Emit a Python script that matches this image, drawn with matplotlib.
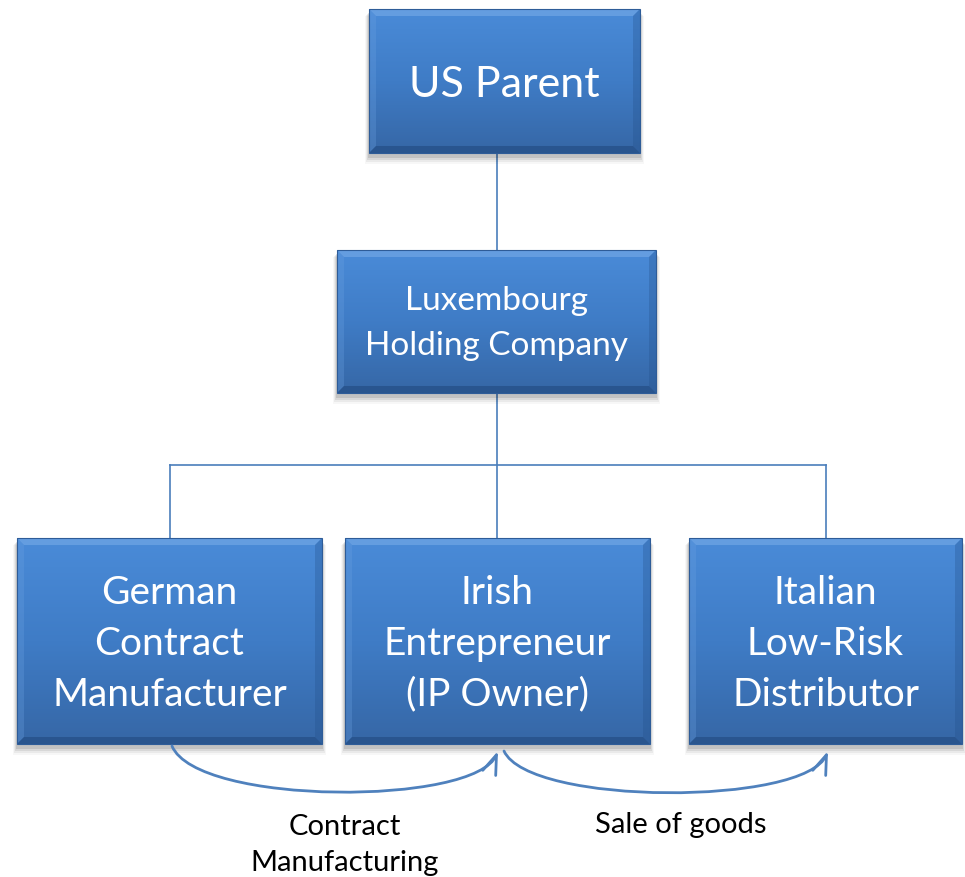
import numpy as np
import matplotlib.pyplot as plt
from matplotlib.colors import LinearSegmentedColormap
from matplotlib.patches import Rectangle, Polygon, FancyArrowPatch
from matplotlib.path import Path

plt.rcParams['font.family'] = ['Lato', 'DejaVu Sans']

# box labels (top to bottom, left to right)
parent_label = 'US Parent'
holding_label = 'Luxembourg\nHolding Company'
sub_labels = ['German\nContract\nManufacturer',
              'Irish\nEntrepreneur\n(IP Owner)',
              'Italian\nLow-Risk\nDistributor']
flow_labels = ['Contract\nManufacturing', 'Sale of goods']

W, H = 965, 877
fig = plt.figure(figsize=(W / 100, H / 100), dpi=100)
ax = fig.add_axes([0, 0, 1, 1])
ax.set_xlim(0, W)
ax.set_ylim(H, 0)
ax.axis('off')

grad = LinearSegmentedColormap.from_list('box', ['#4a8bd8', '#3f7cc6', '#3667a6'])
line_col = '#4a7ebb'


def draw_box(x0, y0, x1, y1, text, size, spacing, dy=1):
    # soft shadow
    for i, a in enumerate([0.10, 0.07, 0.05, 0.03]):
        ax.add_patch(Rectangle((x0 - 1 - i, y0 + 4 + i), x1 - x0 + 2 + 2 * i, y1 - y0 + 1 + i,
                               facecolor='black', alpha=a, edgecolor='none', zorder=1))
    g = np.linspace(0, 1, 100).reshape(-1, 1)
    ax.imshow(g, cmap=grad, extent=(x0, x1, y1, y0), aspect='auto', zorder=2)
    b = 7
    # bevel edges
    ax.add_patch(Polygon([(x0, y0), (x1, y0), (x1 - b, y0 + b), (x0 + b, y0 + b)],
                         facecolor='#7fb1ea', alpha=0.5, edgecolor='none', zorder=3))
    ax.add_patch(Polygon([(x0, y0), (x0 + b, y0 + b), (x0 + b, y1 - b), (x0, y1)],
                         facecolor='#6aa0e0', alpha=0.3, edgecolor='none', zorder=3))
    ax.add_patch(Polygon([(x1, y0), (x1 - b, y0 + b), (x1 - b, y1 - b), (x1, y1)],
                         facecolor='#23508a', alpha=0.3, edgecolor='none', zorder=3))
    ax.add_patch(Polygon([(x0, y1), (x0 + b, y1 - b), (x1 - b, y1 - b), (x1, y1)],
                         facecolor='#1d4478', alpha=0.5, edgecolor='none', zorder=3))
    ax.add_patch(Rectangle((x0, y0), x1 - x0, y1 - y0, facecolor='none',
                           edgecolor='#2e5c98', lw=0.8, zorder=4))
    ax.text((x0 + x1) / 2, (y0 + y1) / 2 + dy, text, color='white', fontsize=size,
            ha='center', va='center', linespacing=spacing, zorder=5)


# connectors
ax.plot([497, 497], [153, 250], color=line_col, lw=1.2, zorder=0)
ax.plot([497, 497], [393, 538], color=line_col, lw=1.2, zorder=0)
ax.plot([170, 826], [465, 465], color=line_col, lw=1.2, zorder=0)
ax.plot([170, 170], [465, 538], color=line_col, lw=1.2, zorder=0)
ax.plot([826, 826], [465, 538], color=line_col, lw=1.2, zorder=0)

draw_box(369, 9, 640, 153, parent_label, 31, 1.2, dy=4)
draw_box(337, 250, 656, 393, holding_label, 24, 1.6, dy=2)
sub_boxes = [(17, 322), (345, 650), (689, 962)]
for (x0, x1), lab in zip(sub_boxes, sub_labels):
    draw_box(x0, 538, x1, 744, lab, 28, 1.5, dy=3)

# flow arrows
arcs = [((172, 746), (498, 751)), ((504, 751), (828, 751))]
for (xa, ya), (xb, yb) in arcs:
    verts = [(xa, ya), (xa + 25, 806), (xb - 22, 806), (xb, yb)]
    path = Path(verts, [Path.MOVETO, Path.CURVE4, Path.CURVE4, Path.CURVE4])
    ax.add_patch(FancyArrowPatch(path=path,
                                 arrowstyle='->,head_length=14,head_width=5',
                                 color='#4f81bd', lw=2, zorder=6, mutation_scale=1))

ax.text(345, 845, flow_labels[0], fontsize=21, ha='center', va='center', linespacing=1.5)
ax.text(681, 825, flow_labels[1], fontsize=21, ha='center', va='center')

fig.savefig('out.png', dpi=100)
